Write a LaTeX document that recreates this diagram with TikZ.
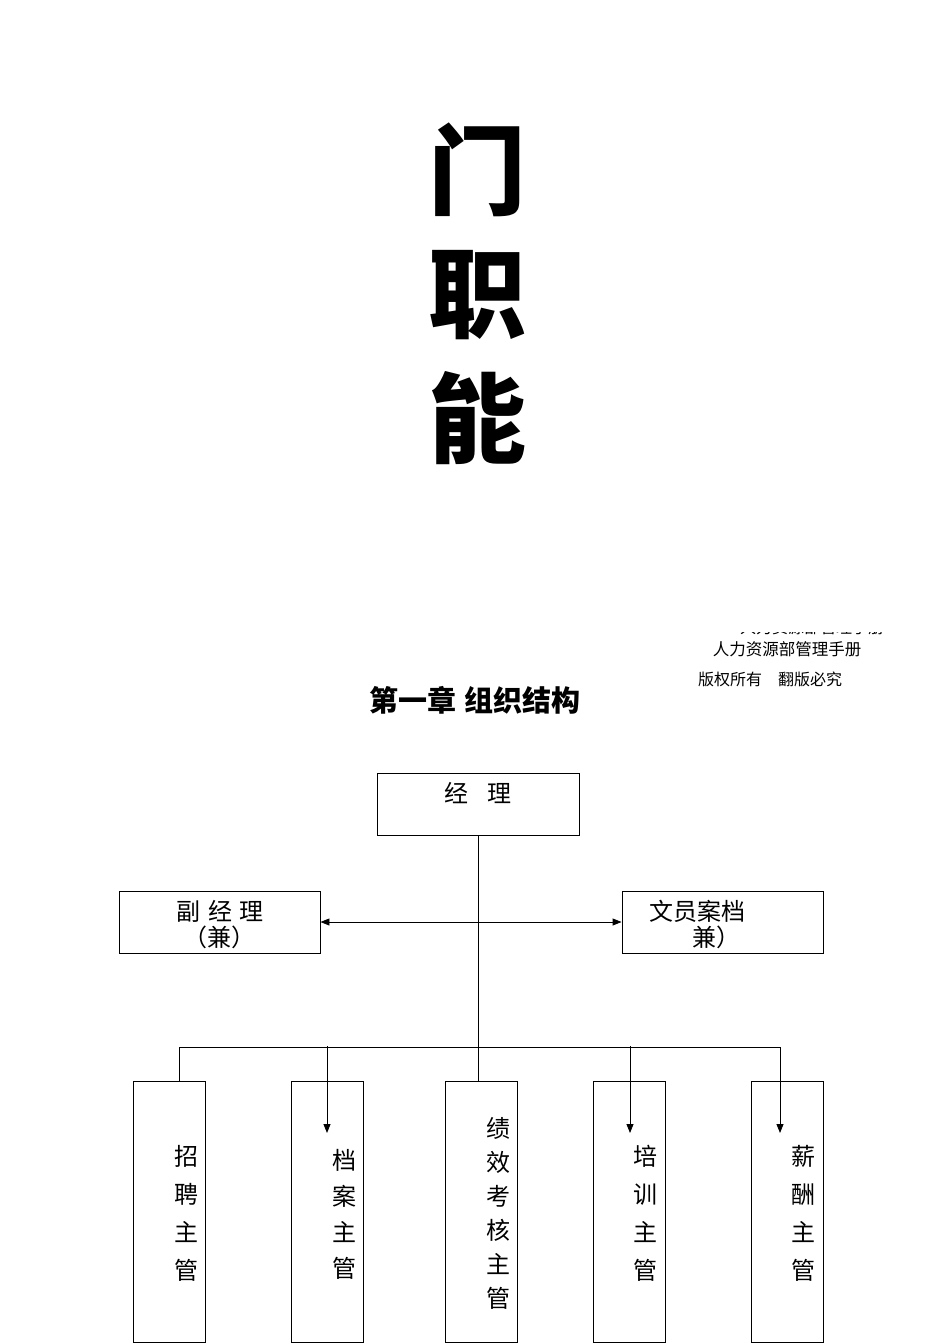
\documentclass[tikz,border=0pt]{standalone}
\usepackage{fontspec}
\setmainfont{Noto Sans CJK SC}
\newfontfamily\cjk{Noto Sans CJK SC}
\usetikzlibrary{arrows.meta}
\tikzset{
  box/.style={draw, line width=0.9pt, inner sep=0pt},
  conn/.style={line width=0.9pt},
  arr/.style={line width=0.9pt, -{Triangle[length=9pt,width=7pt]}},
  darr/.style={line width=0.9pt, {Triangle[length=9pt,width=7pt]}-{Triangle[length=9pt,width=7pt]}},
  lbl/.style={inner sep=0pt, font=\cjk\fontsize{24}{26}\selectfont},
  vlbl/.style={inner sep=0pt, align=center, font=\cjk\fontsize{24}{#1}\selectfont},
  big/.style={inner sep=0pt, font=\cjk\bfseries\fontsize{98}{100}\selectfont},
}
\begin{document}
\begin{tikzpicture}[x=1pt,y=-1pt]
\useasboundingbox (0,0) rectangle (950,1344);
% title characters
\node[big] (t1) at (477,170) {门};
\node[big] (t2) at (477,295) {职};
\node[big] (t3) at (477,418) {能};
% clipped header fragment
\begin{scope}
\clip (735,632.5) rectangle (885,635);
\node[inner sep=0pt, font=\cjk\fontsize{16}{18}\selectfont] (hcut) at (812,627) {人力资源部管理手册};
\end{scope}
\node[inner sep=0pt, font=\cjk\fontsize{16.5}{18}\selectfont] (h1) at (787,649) {人力资源部管理手册};
\node[inner sep=0pt, font=\cjk\fontsize{16}{18}\selectfont] (h2) at (770,679) {版权所有\hspace{1em}翻版必究};
\node[inner sep=0pt, font=\cjk\bfseries\fontsize{29}{31}\selectfont] (chap) at (475,700) {第一章\hspace{0.3em}组织结构};
% boxes
\node[box, minimum width=202pt, minimum height=62pt] (mgr) at (478,804) {};
\node[lbl] (mgrt) at (478,793) {经\hspace{0.8em}理};
\node[box, minimum width=201pt, minimum height=62pt] (dep) at (219.5,922) {};
\node[lbl] (dept1) at (220,911) {副\hspace{0.3em}经\hspace{0.3em}理};
\node[lbl] (dept2) at (219,937) {（兼）};
\node[box, minimum width=201pt, minimum height=62pt] (clerk) at (722.5,922) {};
\node[lbl] (clerkt1) at (697,911) {文员案档};
\node[lbl] (clerkt2) at (716,937) {兼）};
% bottom boxes
\node[box, minimum width=72pt, minimum height=261pt] (b1) at (169,1211.5) {};
\node[box, minimum width=72pt, minimum height=261pt] (b2) at (327,1211.5) {};
\node[box, minimum width=72pt, minimum height=261pt] (b3) at (481,1211.5) {};
\node[box, minimum width=72pt, minimum height=261pt] (b4) at (629,1211.5) {};
\node[box, minimum width=72pt, minimum height=261pt] (b5) at (787,1211.5) {};
\node[vlbl=38] (b1t) at (186,1213) {招\\聘\\主\\管};
\node[vlbl=36] (b2t) at (344,1214) {档\\案\\主\\管};
\node[vlbl=34] (b3t) at (498,1213) {绩\\效\\考\\核\\主\\管};
\node[vlbl=38] (b4t) at (645,1213) {培\\训\\主\\管};
\node[vlbl=38] (b5t) at (803,1213) {薪\\酬\\主\\管};
% connectors
\draw[conn] (mgr.south) -- (mgr.south |- b3.north);
\draw[darr] (dep.east) -- (clerk.west);
\coordinate (busL) at (179,1047);
\coordinate (busR) at (780,1047);
\draw[conn] (busL) -- (busR);
\draw[conn] (busL) -- (busL |- b1.north);
\coordinate (a2s) at (327,1046);
\coordinate (a2e) at (327,1133);
\coordinate (a4s) at (630,1046);
\coordinate (a4e) at (630,1133);
\coordinate (a5e) at (780,1133);
\draw[arr] (a2s) -- (a2e);
\draw[arr] (a4s) -- (a4e);
\draw[arr] (busR) -- (a5e);
\end{tikzpicture}
\end{document}
